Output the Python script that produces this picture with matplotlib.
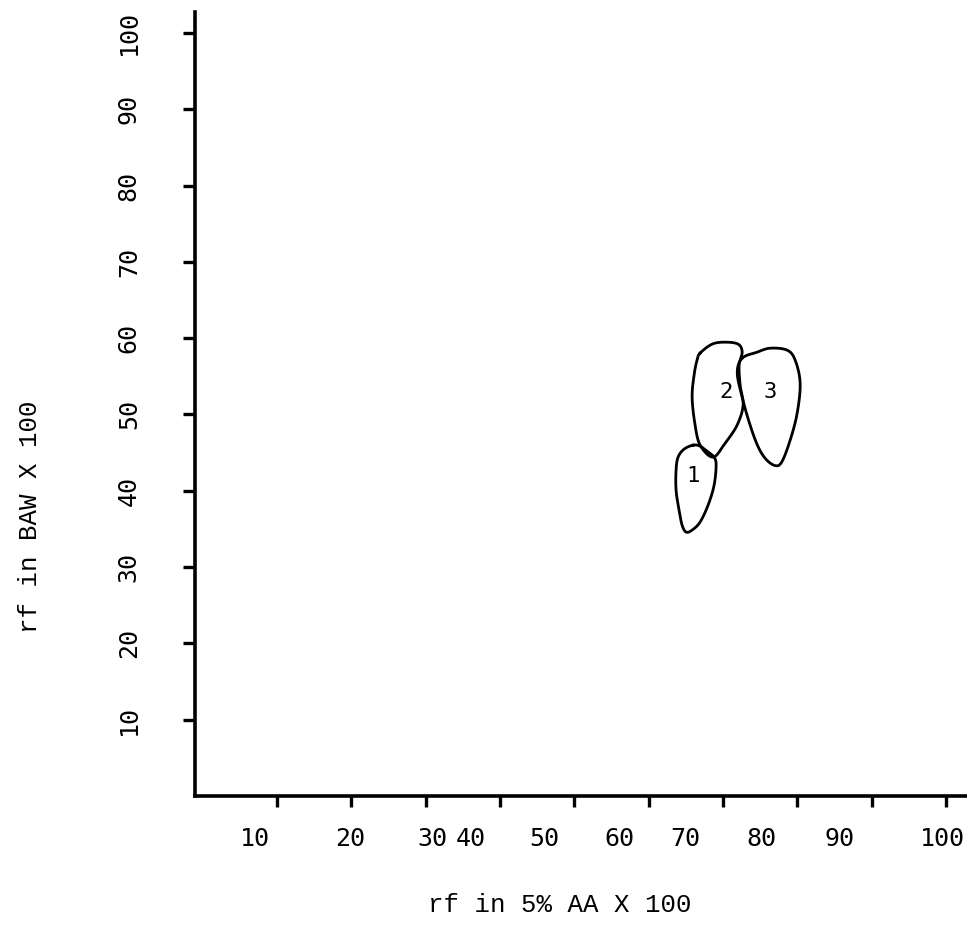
import numpy as np
import matplotlib.pyplot as plt

# spot outlines (rf x 100 in each solvent)
spot1_x = [65.96, 64.75, 63.94, 63.67, 63.67, 64.07, 64.48, 65.02, 65.83, 66.90, 67.98, 68.79, 69.06, 68.79, 67.98, 66.90]
spot1_y = [45.98, 45.46, 44.41, 42.71, 40.09, 37.47, 35.50, 34.59, 34.85, 35.90, 38.12, 40.74, 43.36, 44.41, 45.07, 45.85]

spot2_x = [66.90, 68.52, 70.27, 72.02, 72.56, 72.15, 72.29, 72.69, 71.88, 70.27, 68.65, 66.90, 66.20, 65.83, 66.09, 66.49]
spot2_y = [58.04, 59.22, 59.48, 59.22, 58.17, 56.46, 53.84, 51.22, 48.60, 46.25, 44.41, 46.00, 48.80, 52.27, 55.16, 57.12]

spot3_x = [72.56, 74.58, 76.33, 78.61, 79.69, 80.36, 79.96, 79.02, 77.90, 77.00, 75.70, 74.60, 73.50, 72.50, 71.90]
spot3_y = [57.38, 58.17, 58.69, 58.43, 57.12, 54.11, 50.18, 46.64, 43.80, 43.30, 44.20, 46.00, 49.00, 52.50, 55.50]

spot_names = ['1', '2', '3']
spot_label_pos = [(65.9, 42.0), (70.4, 52.9), (76.35, 52.9)]

x_ticks = [10, 20, 30, 40, 50, 60, 70, 80, 90, 100]
y_ticks = [10, 20, 30, 40, 50, 60, 70, 80, 90, 100]
# typed labels sit a little off their tick marks on the original sheet
x_label_pos = [7.0, 19.8, 30.9, 36.0, 46.0, 56.1, 64.9, 75.2, 85.7, 99.5]


def smooth_closed(xs, ys, n=20):
    # Catmull-Rom through the traced outline points, closed loop
    p = np.column_stack([xs, ys])
    k = len(p)
    out = []
    for i in range(k):
        p0, p1, p2, p3 = p[i - 1], p[i], p[(i + 1) % k], p[(i + 2) % k]
        t = np.linspace(0, 1, n, endpoint=False)[:, None]
        out.append(0.5 * ((2 * p1) + (-p0 + p2) * t
                          + (2 * p0 - 5 * p1 + 4 * p2 - p3) * t ** 2
                          + (-p0 + 3 * p1 - 3 * p2 + p3) * t ** 3))
    out = np.vstack(out + [out[0][:1]])
    return out[:, 0], out[:, 1]


fig = plt.figure(figsize=(9.67, 9.35), dpi=100)
ax = fig.add_axes([195 / 967, 1 - 796 / 935, 1 - 195 / 967, (796 - 12) / 935])
ax.set_xlim(-1.03, 102.8)
ax.set_ylim(0, 102.75)

for xs, ys in [(spot1_x, spot1_y), (spot2_x, spot2_y), (spot3_x, spot3_y)]:
    sx, sy = smooth_closed(xs, ys)
    ax.plot(sx, sy, color='black', lw=2.0, solid_joinstyle='round')

for name, (lx, ly) in zip(spot_names, spot_label_pos):
    ax.text(lx, ly, name, ha='center', va='center', fontsize=16,
            family='DejaVu Sans Mono', color='black')

for s in ['top', 'right']:
    ax.spines[s].set_visible(False)
for s in ['left', 'bottom']:
    ax.spines[s].set_linewidth(2.6)

# tick marks at true positions, labels placed where they were typed
ax.set_xticks(x_ticks)
ax.set_xticklabels([])
ax.set_xticks(x_label_pos, minor=True)
ax.set_xticklabels([str(v) for v in x_ticks], minor=True)
ax.tick_params(axis='x', which='major', direction='out', length=8, width=2.4)
ax.tick_params(axis='x', which='minor', length=0, pad=22, labelsize=18)

ax.set_yticks(y_ticks)
ax.set_yticklabels([str(v) for v in y_ticks], rotation=90, va='center')
ax.tick_params(axis='y', direction='out', length=9, width=2.4, pad=30, labelsize=18)

for lab in ax.get_xticklabels(minor=True) + ax.get_yticklabels():
    lab.set_family('DejaVu Sans Mono')

fig.text(560 / 967, 1 - 905 / 935, 'rf in 5% AA X 100', ha='center', va='center',
         fontsize=18.5, family='Liberation Mono')
fig.text(30 / 967, 1 - 517 / 935, 'rf in BAW X 100', ha='center', va='center',
         rotation=90, fontsize=18.5, family='Liberation Mono')

fig.savefig('out.png', dpi=100)
